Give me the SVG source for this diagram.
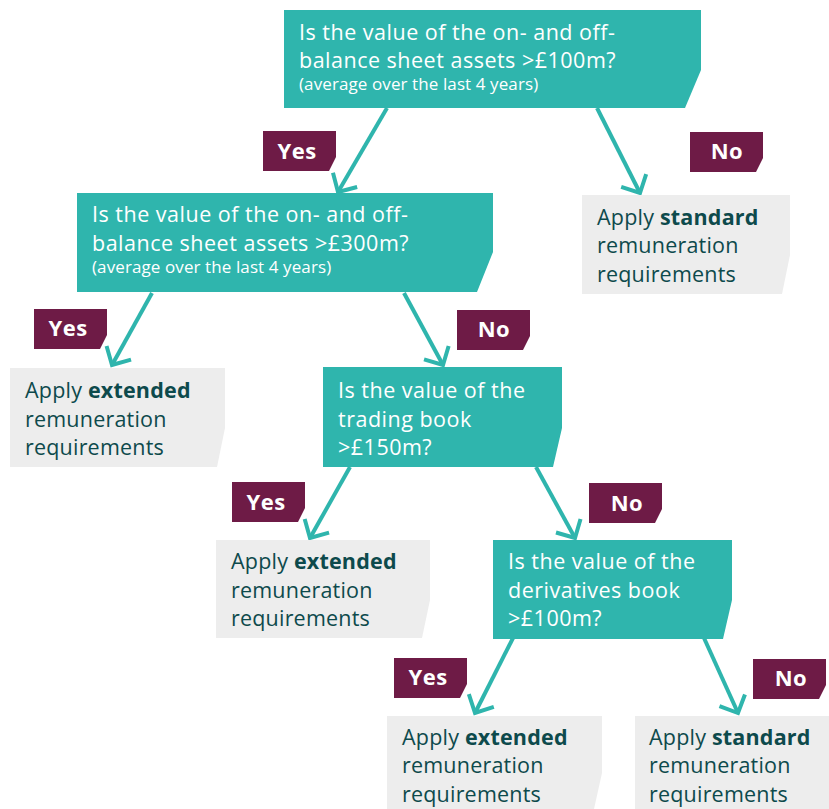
<svg xmlns="http://www.w3.org/2000/svg" width="829" height="809" viewBox="0 0 829 809">
<style>
.q{fill:#2fb5ad}
.g{fill:#ededed}
.l{fill:#6e1b46}
.qt{font-family:"Open Sans","Noto Sans",sans-serif;font-size:21.5px;letter-spacing:0.5px;fill:#fff}
.qs{font-size:17px;letter-spacing:0.1px}
.gt{font-family:"Open Sans","Noto Sans",sans-serif;font-size:21.5px;letter-spacing:0.2px;fill:#0d4a4c}
.b{font-weight:bold}
.lt{font-family:"Open Sans","Noto Sans",sans-serif;font-size:22px;letter-spacing:0.5px;font-weight:bold;fill:#fff;text-anchor:middle}
.c{stroke:#2fb5ad;stroke-width:4;fill:none}
</style>
<defs>
<marker id="ah" markerUnits="userSpaceOnUse" viewBox="-20 -20 30 40" markerWidth="30" markerHeight="40" refX="0" refY="0" orient="auto" overflow="visible">
<path d="M-14,-14 L0,0 L-14,14" stroke="#2fb5ad" stroke-width="4" fill="none"/>
</marker>
</defs>
<rect width="829" height="809" fill="#fff"/>
<g id="connectors" class="c" marker-end="url(#ah)">
<line x1="387" y1="108" x2="338" y2="192"/>
<line x1="597" y1="108" x2="640" y2="193"/>
<line x1="152" y1="293" x2="112" y2="365"/>
<line x1="404" y1="293" x2="443" y2="365"/>
<line x1="350" y1="467" x2="310" y2="538"/>
<line x1="536" y1="467" x2="575" y2="538"/>
<line x1="513" y1="638" x2="475" y2="713"/>
<line x1="704" y1="638" x2="738" y2="713"/>
</g>
<g id="q1">
<path class="q" d="M284,10 H701 V70 L685,108 H284 Z"/>
<text class="qt" x="299" y="40">Is the value of the on- and off-</text>
<text class="qt" x="299" y="68">balance sheet assets &gt;£100m?</text>
<text class="qt qs" x="299" y="90">(average over the last 4 years)</text>
</g>
<g id="q2">
<path class="q" d="M77,193 H493 V252 L477,292 H77 Z"/>
<text class="qt" x="92" y="222">Is the value of the on- and off-</text>
<text class="qt" x="92" y="251">balance sheet assets &gt;£300m?</text>
<text class="qt qs" x="92" y="273">(average over the last 4 years)</text>
</g>
<g id="q3">
<path class="q" d="M323,367 H562 V428 L553,467 H323 Z"/>
<text class="qt" x="338" y="398">Is the value of the</text>
<text class="qt" x="338" y="427">trading book</text>
<text class="qt" x="338" y="455">&gt;£150m?</text>
</g>
<g id="q4">
<path class="q" d="M493,540 H732 V600 L723,639 H493 Z"/>
<text class="qt" x="508" y="569">Is the value of the</text>
<text class="qt" x="508" y="598">derivatives book</text>
<text class="qt" x="508" y="626">&gt;£100m?</text>
</g>
<g id="r1">
<path class="g" d="M582,195 H790 V255 L782,294 H582 Z"/>
<text class="gt" x="597" y="225">Apply <tspan class="b">standard</tspan></text>
<text class="gt" x="597" y="253">remuneration</text>
<text class="gt" x="597" y="282">requirements</text>
</g>
<g id="r2">
<path class="g" d="M10,368 H225 V428 L217,467 H10 Z"/>
<text class="gt" x="25" y="398">Apply <tspan class="b">extended</tspan></text>
<text class="gt" x="25" y="427">remuneration</text>
<text class="gt" x="25" y="455">requirements</text>
</g>
<g id="r3">
<path class="g" d="M216,540 H430 V600 L422,638 H216 Z"/>
<text class="gt" x="231" y="569">Apply <tspan class="b">extended</tspan></text>
<text class="gt" x="231" y="598">remuneration</text>
<text class="gt" x="231" y="626">requirements</text>
</g>
<g id="r4">
<path class="g" d="M387,716 H602 V773 L594,809 H387 Z"/>
<text class="gt" x="402" y="745">Apply <tspan class="b">extended</tspan></text>
<text class="gt" x="402" y="773">remuneration</text>
<text class="gt" x="402" y="802">requirements</text>
</g>
<g id="r5">
<path class="g" d="M635,716 H829 V809 H635 Z"/>
<text class="gt" x="649" y="745">Apply <tspan class="b">standard</tspan></text>
<text class="gt" x="649" y="773">remuneration</text>
<text class="gt" x="649" y="802">requirements</text>
</g>
<g id="yes1"><path class="l" d="M263,131 H336 V157 L329,171 H263 Z"/><text class="lt" x="297" y="159">Yes</text></g>
<g id="no1"><path class="l" d="M690,132 H763 V158 L756,172 H690 Z"/><text class="lt" x="727" y="159">No</text></g>
<g id="yes2"><path class="l" d="M34,309 H107 V335 L100,349 H34 Z"/><text class="lt" x="68" y="336">Yes</text></g>
<g id="no2"><path class="l" d="M457,310 H530 V336 L523,350 H457 Z"/><text class="lt" x="494" y="337">No</text></g>
<g id="yes3"><path class="l" d="M232,482 H305 V508 L298,522 H232 Z"/><text class="lt" x="266" y="510">Yes</text></g>
<g id="no3"><path class="l" d="M589,483 H662 V509 L655,523 H589 Z"/><text class="lt" x="627" y="511">No</text></g>
<g id="yes4"><path class="l" d="M394,658 H467 V684 L460,698 H394 Z"/><text class="lt" x="428" y="685">Yes</text></g>
<g id="no4"><path class="l" d="M753,659 H826 V685 L819,699 H753 Z"/><text class="lt" x="791" y="686">No</text></g>
</svg>
